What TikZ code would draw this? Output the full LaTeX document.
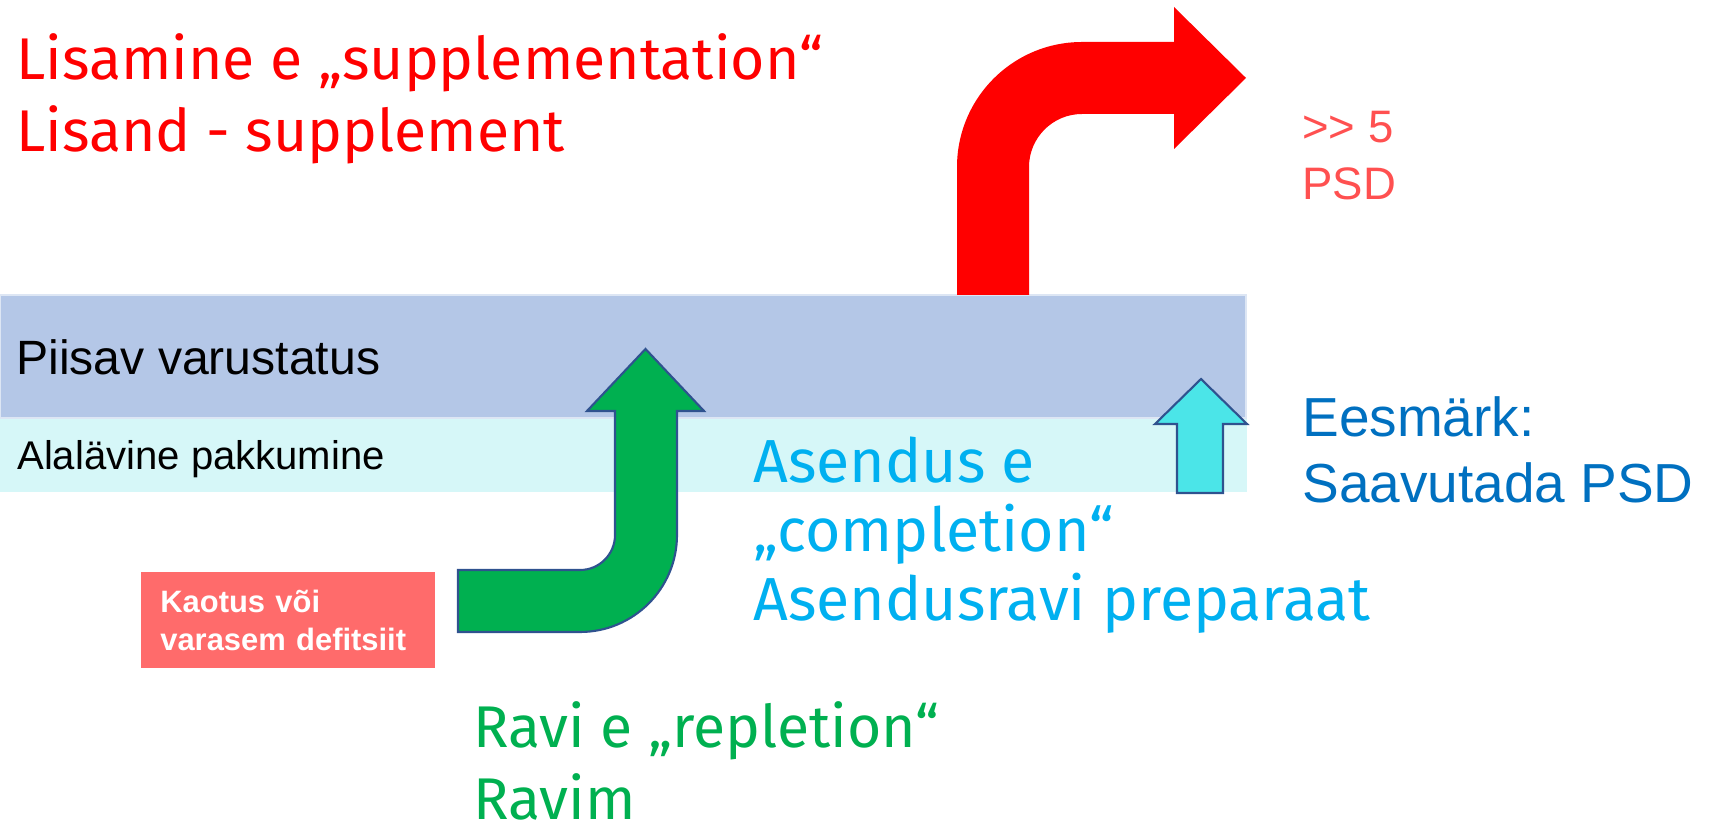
\documentclass[tikz,border=0pt]{standalone}
\usepackage{fontspec}
\setmainfont{Liberation Sans}
\newfontfamily\comicfont{Fira Sans}
\usepackage{tikz}
\definecolor{BandHi}  {RGB}{180,199,231}
\definecolor{BandLo}  {RGB}{214,247,248}
\definecolor{ArrLine} {RGB}{47,82,143}
\definecolor{ArrGreen}{RGB}{0,176,80}
\definecolor{ArrCyan} {RGB}{75,229,232}
\definecolor{ArrRed}  {RGB}{255,0,0}
\definecolor{LossFill}{RGB}{255,107,107}
\definecolor{TxtSalm} {RGB}{255,80,80}
\definecolor{TxtBlue} {RGB}{0,112,192}
\definecolor{TxtSky}  {RGB}{0,176,240}
\tikzset{
  txt/.style={anchor=base west, inner sep=0pt, align=left},
  comic/.style={txt, font=\comicfont\fontsize{33.5}{41}\selectfont},
  blk_arr/.style={draw=ArrLine, line width=1.2pt},
  lossbox/.style={
    rectangle, fill=LossFill, text=white, anchor=north west,
    text width=51.2mm, inner xsep=3.8mm, inner ysep=0pt,
    minimum height=19.2mm, align=left,
    font=\bfseries\fontsize{17.6}{21.6}\selectfont},
}

\begin{document}
\begin{tikzpicture}[x=0.2mm,y=0.2mm]
\useasboundingbox (0,0) rectangle (1709,828);

%% bands
\fill[BandLo] (0,336) rectangle (1247,410);
\filldraw[fill=BandHi, draw=BandHi!45!white, line width=0.6pt]
  (0,410) rectangle (1246,533);
\node[txt, font=\fontsize{27.4}{32}\selectfont] (hi) at (16,453) {Piisav varustatus};
\node[txt, font=\fontsize{22.8}{27}\selectfont] (lo) at (17,358) {Alalävine pakkumine};

%% red bent arrow
\fill[ArrRed] (957,533) -- (957,661) arc[start angle=180,end angle=90,radius=125]
  -- (1174,786) -- (1174,821) -- (1246,750) -- (1174,679) -- (1174,714)
  -- (1082,714) arc[start angle=90,end angle=180,radius=53] -- (1029,533) -- cycle;

%% green bent arrow
\filldraw[blk_arr, fill=ArrGreen] (458,258) -- (580,258)
  arc[start angle=270,end angle=360,radius=35] -- (615,417) -- (587,417)
  -- (645.5,479) -- (704,417) -- (677,417) -- (677,293)
  arc[start angle=0,end angle=-90,radius=97] -- (458,196) -- cycle;

%% cyan arrow
\filldraw[blk_arr, fill=ArrCyan] (1177,335) -- (1177,404) -- (1155,404)
  -- (1201,449) -- (1247,404) -- (1223,404) -- (1223,335) -- cycle;

%% labels (base = last line)
\node[lossbox] (loss) at (141,256) {Kaotus või\\varasem defitsiit};
\node[comic, text=ArrRed] (supp) at (16,676)
  {Lisamine e „supplementation“\\Lisand - supplement};
\node[txt, text=TxtSalm, font=\fontsize{25.9}{33}\selectfont] (psd) at (1302,628)
  {>\kern0pt> 5\\PSD};
\node[txt, text=TxtBlue, font=\fontsize{31.3}{38.1}\selectfont] (goal) at (1302,325)
  {Eesmärk:\\Saavutada PSD};
\node[comic, text=TxtSky, font=\comicfont\fontsize{34.6}{39.3}\selectfont] (compl) at (753,207)
  {Asendus e\\„completion“\\Asendusravi preparaat};
\node[comic, text=ArrGreen] (repl) at (473,8)
  {Ravi e „repletion“\\Ravim};

\end{tikzpicture}
\end{document}
